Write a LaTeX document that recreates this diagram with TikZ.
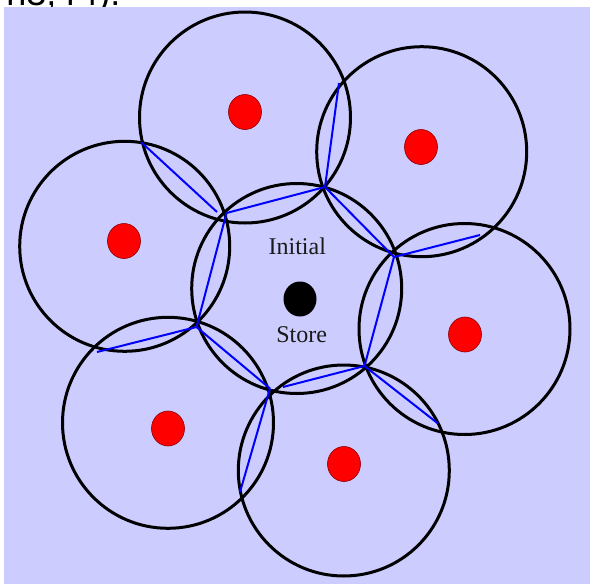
\documentclass[tikz,border=0pt]{standalone}
\usepackage{fontspec}
\setmainfont{Liberation Serif}
\newfontfamily\topfont{Liberation Sans}
\definecolor{lav}{HTML}{CCCCFF}
\definecolor{txt}{HTML}{1A1A1A}
\begin{document}
\begin{tikzpicture}[x=0.5pt,y=-0.5pt,
  ring/.style={draw=black,line width=1.5pt},
  edge/.style={draw=blue,line width=1pt},
  site/.style={fill=red,draw=red!55!black,line width=0.3pt},
  store/.style={fill=black},
  lbl/.style={font=\fontsize{12}{14}\selectfont,text=txt,inner sep=0pt,anchor=base}]
\useasboundingbox (0,0) rectangle (590,584);
\fill[white] (0,0) rectangle (590,584);
\node[font=\topfont\fontsize{18}{20}\selectfont,anchor=base west,inner sep=0pt] (cut) at (6,5) {n3, r4).};
\fill[lav] (4,7) rectangle (590,584);
% circle centres
\coordinate (cT) at (245,117.5);
\coordinate (cU) at (421.7,151.7);
\coordinate (cR) at (464.5,329);
\coordinate (cB) at (343.8,470.5);
\coordinate (cLL) at (168,422.8);
\coordinate (cL) at (124.7,246.3);
\coordinate (cC) at (296.7,288.5);
\draw[ring] (cT) circle[radius=52.75pt];
\draw[ring] (cU) circle[radius=52.5pt];
\draw[ring] (cR) circle[radius=52.75pt];
\draw[ring] (cB) circle[radius=52.75pt];
\draw[ring] (cLL) circle[radius=52.75pt];
\draw[ring] (cL) circle[radius=52.5pt];
\draw[ring] (cC) circle[radius=52.5pt];
% blue vertices
\coordinate (p1) at (226.5,213);
\coordinate (p2) at (325,187);
\coordinate (p3) at (394,257);
\coordinate (p4) at (364.5,366);
\coordinate (p5) at (270,388.5);
\coordinate (p6) at (196.5,327);
\coordinate (s5) at (283,387);
\coordinate (e61) at (217,212);
\coordinate (q61) at (141,142);
\coordinate (q12) at (339,83);
\coordinate (q23) at (480,235);
\coordinate (q34) at (438,423.5);
\coordinate (q45) at (240,492);
\coordinate (q56) at (97,352);
\draw[edge] (p1) -- (p2);
\draw[edge] (p2) -- (p3);
\draw[edge] (p3) -- (p4);
\draw[edge] (s5) -- (p4);
\draw[edge] (p5) -- (p6);
\draw[edge] (p6) -- (p1);
\draw[edge] (q61) -- (e61);
\draw[edge] (q12) -- (p2);
\draw[edge] (q23) -- (p3);
\draw[edge] (q34) -- (p4);
\draw[edge] (q45) -- (p5);
\draw[edge] (q56) -- (p6);
% sites
\path[site] (245,112) ellipse[x radius=8.25pt,y radius=8.75pt];
\path[site] (421,147) ellipse[x radius=8.25pt,y radius=8.75pt];
\path[site] (465,334.5) ellipse[x radius=8.25pt,y radius=8.75pt];
\path[site] (344,464) ellipse[x radius=8.25pt,y radius=8.75pt];
\path[site] (168,428.5) ellipse[x radius=8.25pt,y radius=8.75pt];
\path[site] (124,241) ellipse[x radius=8.25pt,y radius=8.75pt];
\path[store] (300,299) ellipse[x radius=8.25pt,y radius=8.75pt];
\node[lbl] (init) at (297.3,254) {Initial};
\node[lbl] (stor) at (301.7,342.7) {Store};
\end{tikzpicture}
\end{document}
